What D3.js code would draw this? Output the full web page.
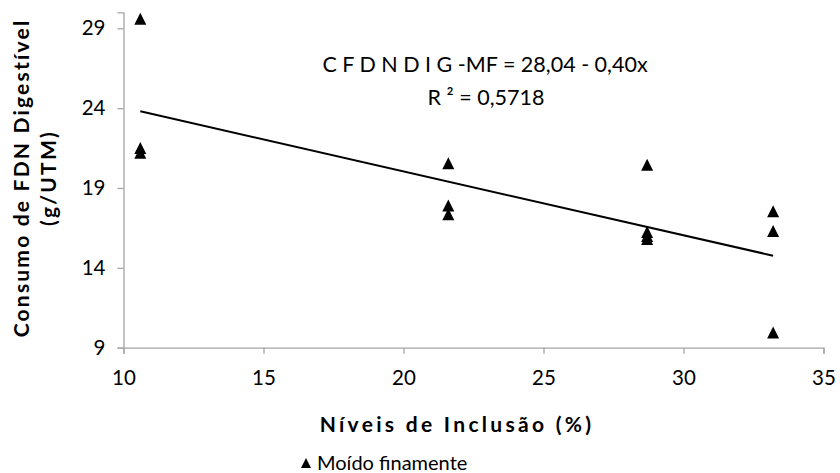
<!DOCTYPE html>
<html>
<head>
<meta charset="utf-8">
<script src="https://cdn.jsdelivr.net/npm/d3@7"></script>
<style>
  html, body { margin: 0; padding: 0; background: #fff; }
  svg { display: block; font-family: Lato, "Liberation Sans", sans-serif; }
</style>
</head>
<body>
<svg id="chart" width="840" height="473"></svg>
<script>
// Inclusion levels (%) and measured intake of digestible NDF (g/UTM)
const levels = [10.6, 21.6, 28.7, 33.2];
const intake = [
  [29.6, 21.5, 21.2],
  [20.55, 17.9, 17.35],
  [20.45, 16.25, 16.0, 15.8],
  [17.55, 16.3, 9.95]
];
const xTicks = [10, 15, 20, 25, 30, 35];
const yTicks = [9, 14, 19, 24, 29];
// Fitted line: CFDNDIG-MF = 28,04 - 0,40x
const fitIntercept = 28.04;
const fitSlope = -0.40;
const equationText = "C F D N D I G -MF  = 28,04 - 0,40x";
const r2Text = "R ² = 0,5718";
const seriesName = "Moído finamente";

const points = levels.flatMap((lv, i) => intake[i].map(v => ({ x: lv, y: v })));

const svg = d3.select("#chart");
const x = d3.scaleLinear().domain([10, 35]).range([123.5, 823.5]);
const y = d3.scaleLinear().domain([9, 30]).range([347.7, 12.3]);
const axisColor = "#a6a6a6";
const font = "Lato, 'Liberation Sans', sans-serif";

// X axis
const gx = svg.append("g").attr("transform", `translate(0,${y(9)})`)
  .call(d3.axisBottom(x).tickValues(xTicks).tickSize(6).tickPadding(15).tickFormat(d3.format("d")));
// Y axis
const gy = svg.append("g").attr("transform", `translate(${x(10)},0)`)
  .call(d3.axisLeft(y).tickValues(yTicks).tickSize(6).tickPadding(12).tickFormat(d3.format("d")));
[gx, gy].forEach(g => {
  g.select(".domain").attr("stroke", axisColor).attr("stroke-width", 1.3);
  g.selectAll(".tick line").attr("stroke", axisColor).attr("stroke-width", 1.3);
  g.selectAll(".tick text").attr("fill", "#000").style("font-size", "20.5px")
    .style("font-family", font);
});
gx.selectAll(".tick text").attr("dy", "0.8em");

// Trend line over the observed range
const xs = d3.extent(levels);
svg.append("line")
  .attr("x1", x(xs[0])).attr("y1", y(fitIntercept + fitSlope * xs[0]))
  .attr("x2", x(xs[1])).attr("y2", y(fitIntercept + fitSlope * xs[1]))
  .attr("stroke", "#000").attr("stroke-width", 2);

// Triangle marker, centred on its bounding box
const tri = s => `M0,${-s}L${s},${s}L${-s},${s}Z`;
svg.append("g").selectAll("path").data(points).join("path")
  .attr("d", tri(6))
  .attr("transform", d => `translate(${x(d.x)},${y(d.y)})`)
  .attr("fill", "#000");

// Equation labels
svg.append("text").attr("x", 485).attr("y", 72).attr("text-anchor", "middle")
  .style("font-size", "21.5px").text(equationText);
svg.append("text").attr("x", 486).attr("y", 105).attr("text-anchor", "middle")
  .style("font-size", "21.5px").text(r2Text);

// Axis titles
svg.append("text").attr("x", 457).attr("y", 432).attr("text-anchor", "middle")
  .style("font-size", "21px").style("font-weight", "bold").style("letter-spacing", "3.3px")
  .text("Níveis de Inclusão (%)");
const yTitle = svg.append("text").attr("transform", "translate(0,178) rotate(-90)")
  .attr("text-anchor", "middle").style("font-size", "21px").style("font-weight", "bold")
  .style("letter-spacing", "2.2px");
yTitle.append("tspan").attr("x", 0).attr("y", 29).text("Consumo de FDN Digestível");
yTitle.append("tspan").attr("x", 0).attr("y", 56).text("(g/UTM)");

// Legend
const lg = svg.append("g").attr("transform", "translate(306,463)");
lg.append("path").attr("d", tri(5)).attr("fill", "#000");
lg.append("text").attr("x", 11).attr("y", 7).style("font-size", "20px").text(seriesName);
</script>
</body>
</html>
